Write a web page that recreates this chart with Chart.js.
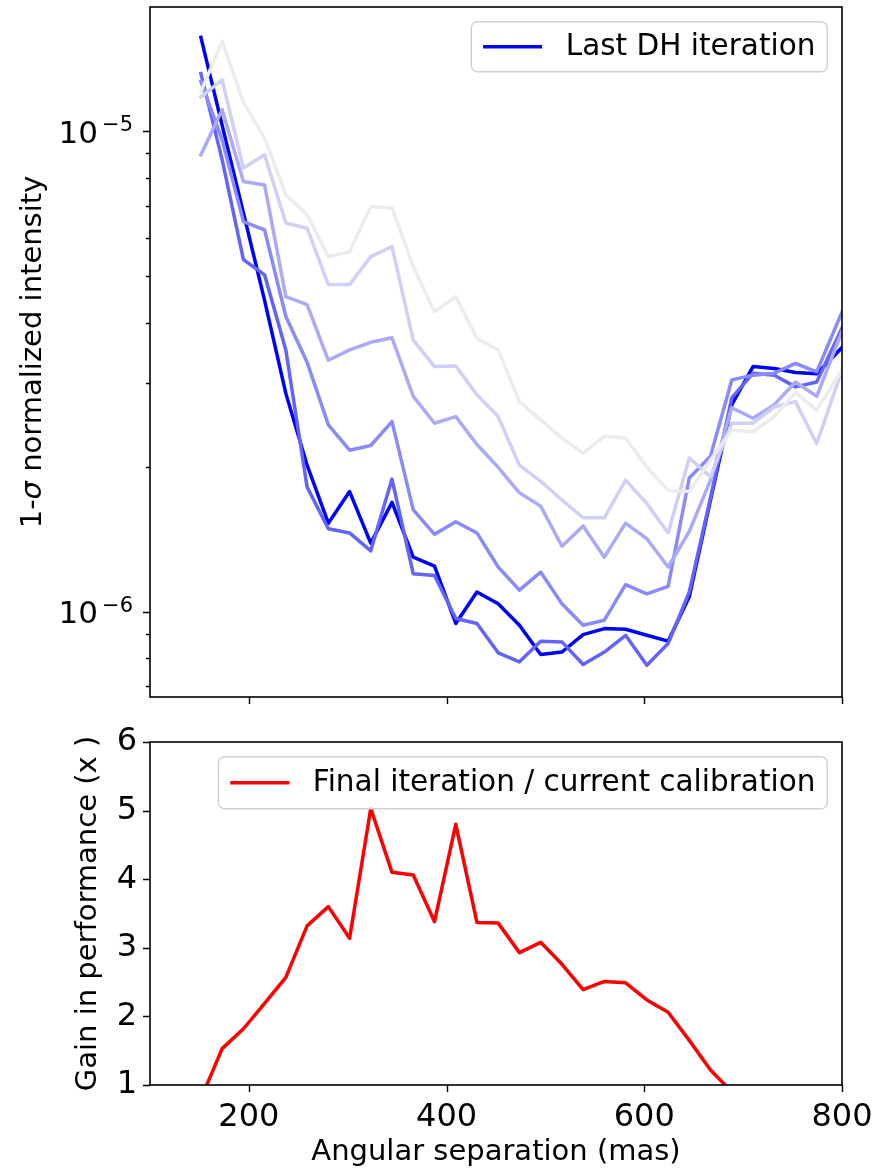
<!DOCTYPE html>
<html>
<head>
<meta charset="utf-8">
<script src="https://cdn.jsdelivr.net/npm/chart.js@4.4.1/dist/chart.umd.min.js"></script>
<style>
  html, body { margin: 0; padding: 0; background: #fff; }
  #wrap { position: relative; width: 884px; height: 1172px; }
  canvas { position: absolute; left: 0; }
</style>
</head>
<body>
<div id="wrap">
  <canvas id="chart-top" width="884" height="720" style="top:0"></canvas>
  <canvas id="chart-gain" width="884" height="472" style="top:700px"></canvas>
</div>
<script>
// angular separation of each sample (mas)
const separation = [151.5, 173.0, 194.5, 215.9, 237.4, 258.9, 280.4, 301.9, 323.3, 344.8,
                    366.3, 387.8, 409.3, 430.7, 452.2, 473.7, 495.2, 516.7, 538.1, 559.6,
                    581.1, 602.6, 624.1, 645.5, 667.0, 688.5, 710.0, 731.5, 752.9, 774.4,
                    795.9, 817.4];

// 1-sigma normalized intensity, one array per DH iteration (oldest first)
const iter1 = [1.21e-5, 1.54e-5, 1.15e-5, 9.69e-6, 7.38e-6, 6.71e-6, 5.49e-6, 5.62e-6, 6.98e-6, 6.93e-6,
               5.23e-6, 4.22e-6, 4.53e-6, 3.71e-6, 3.51e-6, 2.74e-6, 2.51e-6, 2.30e-6, 2.14e-6, 2.32e-6,
               2.30e-6, 2.00e-6, 1.79e-6, 1.78e-6, 2.07e-6, 2.39e-6, 2.37e-6, 2.55e-6, 2.86e-6, 2.63e-6,
               3.09e-6, 3.63e-6];
const iter2 = [1.18e-5, 1.28e-5, 8.39e-6, 8.94e-6, 6.45e-6, 6.29e-6, 4.80e-6, 4.80e-6, 5.49e-6, 5.76e-6,
               3.68e-6, 3.24e-6, 3.25e-6, 2.83e-6, 2.55e-6, 2.02e-6, 1.87e-6, 1.71e-6, 1.57e-6, 1.57e-6,
               1.88e-6, 1.68e-6, 1.46e-6, 2.09e-6, 1.91e-6, 2.47e-6, 2.47e-6, 2.67e-6, 2.74e-6, 2.24e-6,
               3.01e-6, 4.06e-6];
const iter3 = [8.94e-6, 1.11e-5, 7.87e-6, 7.74e-6, 4.53e-6, 4.36e-6, 3.34e-6, 3.51e-6, 3.64e-6, 3.72e-6,
               2.81e-6, 2.47e-6, 2.55e-6, 2.23e-6, 2.00e-6, 1.77e-6, 1.66e-6, 1.37e-6, 1.51e-6, 1.30e-6,
               1.53e-6, 1.42e-6, 1.24e-6, 1.47e-6, 1.88e-6, 2.66e-6, 2.53e-6, 2.70e-6, 3.01e-6, 2.81e-6,
               3.65e-6, 4.75e-6];
const iter4 = [1.27e-5, 9.61e-6, 6.49e-6, 6.24e-6, 4.12e-6, 3.31e-6, 2.45e-6, 2.17e-6, 2.22e-6, 2.49e-6,
               1.63e-6, 1.45e-6, 1.54e-6, 1.46e-6, 1.24e-6, 1.11e-6, 1.21e-6, 1.04e-6, 9.38e-7, 9.61e-7,
               1.14e-6, 1.09e-6, 1.13e-6, 1.90e-6, 2.11e-6, 3.04e-6, 3.11e-6, 3.14e-6, 3.29e-6, 3.16e-6,
               4.02e-6, 5.10e-6];
const iter5 = [1.32e-5, 8.73e-6, 5.41e-6, 5.03e-6, 3.51e-6, 1.82e-6, 1.49e-6, 1.46e-6, 1.34e-6, 1.89e-6,
               1.20e-6, 1.19e-6, 9.69e-7, 9.46e-7, 8.22e-7, 7.87e-7, 8.69e-7, 8.66e-7, 7.77e-7, 8.25e-7,
               8.94e-7, 7.74e-7, 8.59e-7, 1.10e-6, 1.73e-6, 2.79e-6, 3.14e-6, 3.11e-6, 2.94e-6, 3.01e-6,
               3.74e-6, 4.64e-6];
const lastIter = [1.57e-5, 1.03e-5, 6.77e-6, 4.45e-6, 2.85e-6, 2.02e-6, 1.53e-6, 1.78e-6, 1.39e-6, 1.69e-6,
                  1.30e-6, 1.245e-6, 9.46e-7, 1.10e-6, 1.04e-6, 9.38e-7, 8.15e-7, 8.25e-7, 8.97e-7, 9.23e-7,
                  9.20e-7, 8.94e-7, 8.69e-7, 1.075e-6, 1.71e-6, 2.70e-6, 3.24e-6, 3.21e-6, 3.15e-6, 3.13e-6,
                  3.48e-6, 3.88e-6];
const iterColors = ['#ececf0', '#d0d0f6', '#aaaaf9', '#8a8afb', '#6464fd', '#0000ff'];

// gain = final iteration / current calibration (first 26 separations)
const gain = [0.80, 1.53, 1.82, 2.19, 2.57, 3.32, 3.60, 3.14, 5.03, 4.10,
              4.06, 3.38, 4.80, 3.37, 3.36, 2.93, 3.08, 2.76, 2.39, 2.51,
              2.49, 2.24, 2.06, 1.65, 1.22, 0.90];

// axis ticks
const xTicks     = [200, 400, 600, 800];
const topYTicks  = [7e-7, 8e-7, 9e-7, 1e-6, 2e-6, 3e-6, 4e-6, 5e-6, 6e-6, 7e-6, 8e-6, 9e-6, 1e-5];
const gainYTicks = [1, 2, 3, 4, 5, 6];

const FONT = 'DejaVu Sans';
const TICK_FS = 32, LABEL_FS = 29, LEGEND_FS = 29.5;
const TICK_MAJOR = 7, TICK_MINOR = 4;

Chart.defaults.font.family = FONT;
Chart.defaults.color = '#000';

const toPoints = vals => vals.map((v, i) => ({ x: separation[i], y: v }));
const isDecade = v => Math.abs(Math.log10(v) - Math.round(Math.log10(v))) < 1e-9;
const noPad = s => { s.paddingTop = 0; s.paddingBottom = 0; s.paddingLeft = 0; s.paddingRight = 0; };

// matplotlib-like frame: spines, tick marks, exponent labels, mixed-font title, legend box
const mplFrame = {
  id: 'mplFrame',
  afterDatasetsDraw(chart, args, opts) {
    const { ctx, chartArea: a } = chart;
    const sx = chart.scales.x, sy = chart.scales.y;
    ctx.save();

    ctx.strokeStyle = '#000';
    ctx.lineWidth = 1.4;
    ctx.beginPath();
    sx.ticks.forEach(t => {
      const px = Math.round(sx.getPixelForValue(t.value)) + 0.5;
      ctx.moveTo(px, a.bottom); ctx.lineTo(px, a.bottom + TICK_MAJOR);
    });
    sy.ticks.forEach(t => {
      const py = Math.round(sy.getPixelForValue(t.value)) + 0.5;
      const len = t.major ? TICK_MAJOR : TICK_MINOR;
      ctx.moveTo(a.left, py); ctx.lineTo(a.left - len, py);
    });
    ctx.stroke();

    ctx.lineWidth = 1.6;
    ctx.strokeRect(a.left, a.top, a.right - a.left, a.bottom - a.top);

    // 10^n labels on the log axis
    if (opts.expLabels) {
      ctx.fillStyle = '#000';
      ctx.textBaseline = 'alphabetic';
      ctx.textAlign = 'left';
      sy.ticks.filter(t => t.major).forEach(t => {
        const py = sy.getPixelForValue(t.value);
        const sup = '\u2212' + Math.abs(Math.round(Math.log10(t.value)));
        ctx.font = `31px ${FONT}`;
        const wb = ctx.measureText('10').width;
        ctx.font = `21px ${FONT}`;
        const ws = ctx.measureText(sup).width;
        const right = a.left - 17;
        ctx.fillText(sup, right - ws, py);
        ctx.font = `31px ${FONT}`;
        ctx.fillText('10', right - ws - 4 - wb, py + 11.5);
      });
    }

    // y title with an italic sigma
    if (opts.yTitle) {
      const parts = opts.yTitle;
      const fontOf = p => `${p.italic ? 'italic ' : ''}${LABEL_FS}px ${FONT}`;
      let total = 0;
      parts.forEach(p => { ctx.font = fontOf(p); p.w = ctx.measureText(p.text).width; total += p.w; });
      ctx.translate(opts.yTitleX, (a.top + a.bottom) / 2);
      ctx.rotate(-Math.PI / 2);
      ctx.fillStyle = '#000';
      ctx.textAlign = 'left';
      ctx.textBaseline = 'middle';
      let x = -total / 2;
      parts.forEach(p => { ctx.font = fontOf(p); ctx.fillText(p.text, x, 0); x += p.w; });
      ctx.setTransform(1, 0, 0, 1, 0, 0);
    }

    // legend
    const ds = chart.data.datasets[opts.legendIndex];
    const fs = LEGEND_FS;
    ctx.font = `${fs}px ${FONT}`;
    const tw = ctx.measureText(ds.label).width;
    const pad = 0.4 * fs, handle = 2 * fs, gap = 0.8 * fs, axPad = 0.5 * fs;
    const w = pad + handle + gap + tw + pad, h = opts.legendHeight;
    const x1 = a.right - axPad - w, y1 = a.top + axPad;
    ctx.beginPath();
    ctx.roundRect(x1, y1, w, h, 6);
    ctx.fillStyle = 'rgba(255,255,255,0.8)';
    ctx.fill();
    ctx.strokeStyle = '#d0d0d0';
    ctx.lineWidth = 1.4;
    ctx.stroke();
    const cy = y1 + h / 2;
    ctx.beginPath();
    ctx.moveTo(x1 + pad, cy); ctx.lineTo(x1 + pad + handle, cy);
    ctx.strokeStyle = ds.borderColor;
    ctx.lineWidth = ds.borderWidth;
    ctx.stroke();
    ctx.fillStyle = '#000';
    ctx.textAlign = 'left';
    ctx.textBaseline = 'middle';
    ctx.fillText(ds.label, x1 + pad + handle + gap, cy + 1);

    ctx.restore();
  }
};

const lineStyle = { pointRadius: 0, borderWidth: 3.5, tension: 0, clip: 0,
                    borderJoinStyle: 'round', borderCapStyle: 'square' };

const iterSets = [iter1, iter2, iter3, iter4, iter5, lastIter].map((vals, i) => ({
  label: i === 5 ? 'Last DH iteration' : `Iteration ${i + 1}`,
  data: toPoints(vals),
  borderColor: iterColors[i],
  ...lineStyle,
}));

new Chart(document.getElementById('chart-top'), {
  type: 'line',
  data: { datasets: iterSets },
  options: {
    responsive: false, animation: false, devicePixelRatio: 1,
    layout: { padding: { left: 0, top: 7, right: 42, bottom: 23 } },
    plugins: {
      legend: { display: false }, tooltip: { enabled: false },
      mplFrame: {
        legendIndex: 5, legendHeight: 50, expLabels: true, yTitleX: 33,
        yTitle: [{ text: '1-' }, { text: 'σ', italic: true }, { text: ' normalized intensity' }],
      },
    },
    scales: {
      x: {
        type: 'linear', min: 100, max: 800,
        afterBuildTicks: s => { s.ticks = xTicks.map(v => ({ value: v, major: true })); },
        afterFit: s => { s.height = 0; noPad(s); },
        ticks: { display: false },
        grid: { display: false, drawTicks: true, tickLength: TICK_MAJOR },
        border: { display: false },
      },
      y: {
        type: 'logarithmic', min: 6.65e-7, max: 1.816e-5,
        afterBuildTicks: s => { s.ticks = topYTicks.map(v => ({ value: v, major: isDecade(v) })); },
        afterFit: s => { s.width = 150; noPad(s); },
        ticks: { display: false },
        grid: { display: false },
        border: { display: false },
      },
    },
  },
  plugins: [mplFrame],
});

new Chart(document.getElementById('chart-gain'), {
  type: 'line',
  data: {
    datasets: [{
      label: 'Final iteration / current calibration',
      data: toPoints(gain),
      borderColor: '#ff0000',
      ...lineStyle,
    }],
  },
  options: {
    responsive: false, animation: false, devicePixelRatio: 1,
    layout: { padding: { left: 0, top: 42, right: 42, bottom: 0 } },
    plugins: {
      legend: { display: false }, tooltip: { enabled: false },
      mplFrame: { legendIndex: 0, legendHeight: 52, expLabels: false },
    },
    scales: {
      x: {
        type: 'linear', min: 100, max: 800,
        afterBuildTicks: s => { s.ticks = xTicks.map(v => ({ value: v, major: true })); },
        afterFit: s => { s.height = 87; noPad(s); },
        ticks: { font: { size: TICK_FS }, padding: 6, maxRotation: 0, autoSkip: false },
        grid: { display: false, drawTicks: true, tickLength: TICK_MAJOR },
        border: { display: false },
        title: { display: true, text: 'Angular separation (mas)',
                 font: { size: LABEL_FS }, padding: { top: 0, bottom: 2.6 } },
      },
      y: {
        type: 'linear', min: 1, max: 6,
        afterBuildTicks: s => { s.ticks = gainYTicks.map(v => ({ value: v, major: true })); },
        afterFit: s => { s.width = 150; noPad(s); },
        ticks: { font: { size: TICK_FS }, padding: 6 },
        grid: { display: false, drawTicks: true, tickLength: TICK_MAJOR },
        border: { display: false },
        title: { display: true, text: 'Gain in performance (x )',
                 font: { size: LABEL_FS }, padding: { top: 70.6, bottom: 0 } },
      },
    },
  },
  plugins: [mplFrame],
});
</script>
</body>
</html>
